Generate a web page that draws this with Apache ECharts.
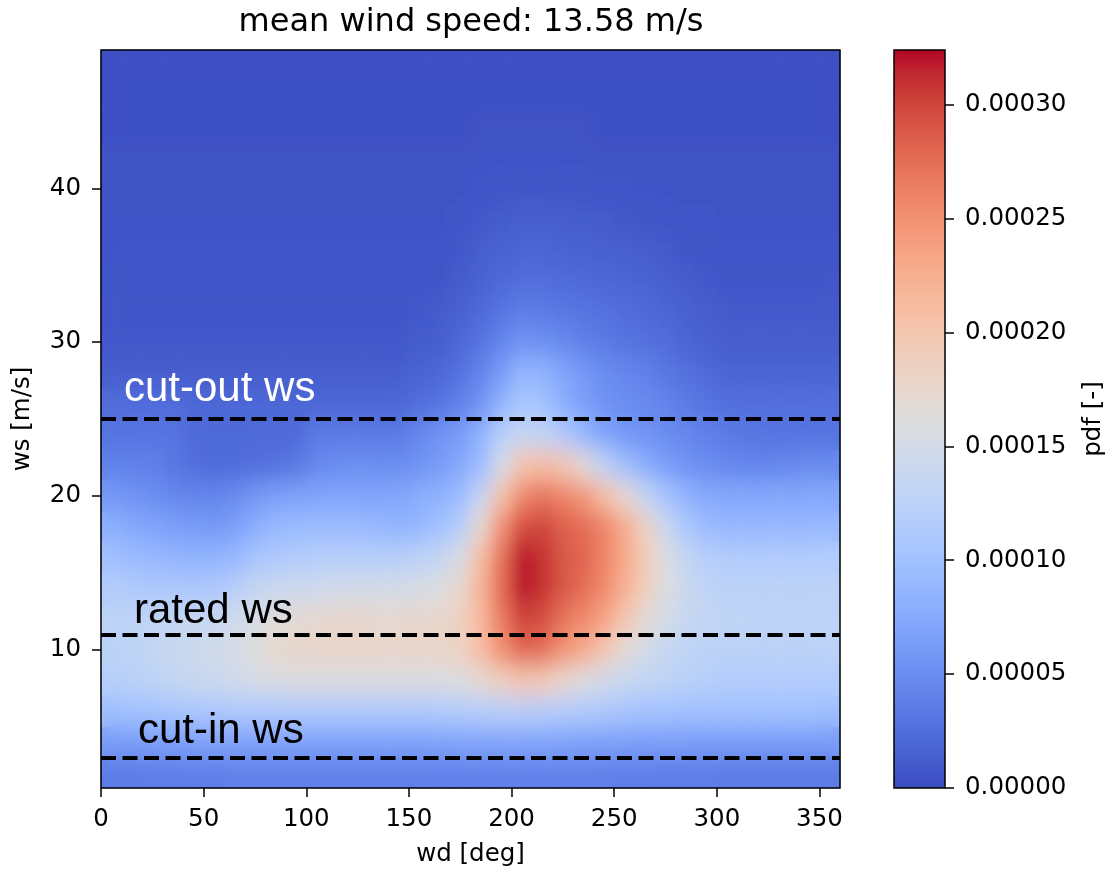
<!DOCTYPE html>
<html><head><meta charset="utf-8">
<script src="https://cdn.jsdelivr.net/npm/echarts@6/dist/echarts.min.js"></script>
<style>html,body{margin:0;padding:0;background:#fff}#c{width:1114px;height:874px;position:relative}</style>
</head><body>
<svg width="0" height="0" style="position:absolute">
  <filter id="smooth" x="-5%" y="-5%" width="110%" height="110%">
    <feGaussianBlur stdDeviation="8 12"/>
  </filter>
</svg>
<div id="c"></div>
<script>
// wind direction bin centres [deg] (10 deg bins) and wind speed bin centres [m/s] (2 m/s bins)
const wdCats = [5,15,25,35,45,55,65,75,85,95,105,115,125,135,145,155,165,175,185,195,205,215,225,235,245,255,265,275,285,295,305,315,325,335,345,355];
const wsCats = [2,4,6,8,10,12,14,16,18,20,22,24,26,28,30,32,34,36,38,40,42,44,46,48];

// pdf values in units of 1e-5 [-], one array per wind speed bin, wd 5..355
const pdf_ws02 = [3.6,3.6,3.7,3.7,3.8,3.8, 3.9,3.9,3.9,3.9,3.9,3.9, 3.9,3.9,3.9,3.9,4.0,4.0, 4.0,4.0,4.0,4.0,4.0,3.9, 3.9,3.8,3.8,3.7,3.7,3.7, 3.6,3.6,3.6,3.6,3.6,3.6];
const pdf_ws04 = [6.3,6.3,6.4,6.5,6.6,6.7, 6.8,6.8,6.8,6.8,6.8,6.8, 6.8,6.8,6.8,6.8,6.9,7.0, 7.0,7.0,7.0,7.0,6.9,6.8, 6.7,6.6,6.5,6.4,6.4,6.3, 6.3,6.3,6.3,6.3,6.3,6.3];
const pdf_ws06 = [9.8,10.0,10.2,10.5,10.8,11.0, 11.2,11.2,11.2,11.2,11.2,11.2, 11.2,11.2,11.2,11.2,11.3,11.5, 11.8,12.0,12.0,11.8,11.5,11.3, 11.0,10.6,10.3,10.2,10.0,10.0, 10.0,10.0,10.0,10.0,10.0,9.8];
const pdf_ws08 = [12.0,12.3,12.8,13.3,13.8,14.0, 14.6,15.2,15.6,15.8,15.8,15.8, 15.8,15.8,15.8,15.8,15.8,16.2, 17.2,18.8,20.0,19.5,17.8,16.0, 14.8,13.8,13.2,12.8,12.3,12.0, 11.5,11.5,11.5,11.5,11.5,11.5];
const pdf_ws10 = [12.5,12.8,13.3,13.8,14.2,14.5, 15.3,16.3,17.3,17.7,17.8,17.8, 17.8,17.8,17.8,17.8,17.8,18.3, 21.0,25.0,28.0,27.5,25.0,23.0, 20.0,17.0,15.0,13.7,13.0,12.6, 12.5,12.5,12.5,12.5,12.5,12.5];
const pdf_ws12 = [12.8,12.8,13.0,13.3,13.5,13.8, 14.5,15.5,16.5,17.0,17.3,17.5, 17.5,17.3,17.3,17.5,17.8,18.5, 21.5,26.5,30.0,29.5,27.0,25.5, 23.5,20.0,17.0,15.0,13.8,13.2, 13.0,13.0,12.8,12.8,12.8,12.8];
const pdf_ws14 = [11.5,11.3,11.0,11.0,11.0,11.0, 12.0,13.3,14.0,14.3,14.5,14.8, 15.0,15.0,15.0,15.5,16.0,17.5, 22.0,27.5,32.0,31.0,29.0,27.5, 25.5,22.5,19.0,16.0,14.0,13.0, 12.5,12.5,12.5,12.5,12.5,12.5];
const pdf_ws16 = [10.0,9.5,9.0,8.7,8.5,8.5, 9.0,10.5,11.2,11.5,11.8,12.0, 12.0,12.0,12.0,12.5,13.5,15.5, 21.0,27.0,32.0,31.0,29.0,28.0, 26.0,23.0,19.5,16.0,13.5,12.0, 11.5,11.5,11.5,11.5,11.5,11.5];
const pdf_ws18 = [8.0,7.5,7.0,6.5,6.2,6.0, 6.5,8.0,9.0,9.3,9.5,9.5, 9.3,9.0,8.5,9.0,10.0,12.0, 17.5,25.0,29.5,30.0,28.5,27.5, 26.0,23.0,18.5,14.0,11.0,9.5, 9.0,9.0,9.0,9.0,9.0,9.0];
const pdf_ws20 = [6.0,5.5,5.0,4.5,4.3,4.3, 4.8,5.8,6.5,6.8,7.0,7.0, 7.0,7.0,7.2,7.8,8.3,9.5, 13.5,20.5,25.5,27.0,26.0,24.5, 21.0,17.5,13.5,10.5,8.5,7.5, 7.3,7.3,7.3,7.3,7.3,7.3];
const pdf_ws22 = [4.0,4.0,4.0,3.3,2.6,2.3, 2.3,2.5,2.8,3.3,4.5,5.0, 5.2,5.0,5.0,5.5,6.2,7.5, 9.5,15.0,20.0,21.0,20.0,17.0, 13.0,10.0,8.0,6.5,5.5,5.0, 4.5,4.3,4.3,4.5,4.8,4.8];
const pdf_ws24 = [3.0,3.0,3.0,3.0,2.2,2.2, 2.2,2.2,2.2,2.2,3.5,3.5, 3.5,3.5,3.5,4.5,5.5,6.3, 8.5,12.0,13.5,13.0,11.5,9.0, 7.0,6.0,5.5,5.0,4.5,4.0, 3.5,3.2,3.0,3.0,3.0,3.0];
const pdf_ws26 = [2.4,2.4,2.4,2.4,2.0,2.0, 2.0,2.0,2.0,2.0,2.0,2.0, 2.0,2.0,2.0,2.5,3.0,4.0, 5.5,8.5,10.8,10.2,8.0,6.6, 5.5,5.0,4.8,4.2,3.5,3.0, 2.6,2.6,2.6,2.6,2.6,2.6];
const pdf_ws28 = [1.2,1.2,1.2,1.2,1.2,1.2, 1.2,1.2,1.2,1.2,1.2,1.2, 1.2,1.2,1.4,1.7,2.1,2.8, 4.2,6.3,8.8,8.5,7.2,6.0, 5.0,4.5,4.0,3.3,2.7,2.2, 1.8,1.8,1.8,1.8,1.8,1.8];
const pdf_ws30 = [0.9,0.9,0.9,0.9,0.9,0.9, 0.9,0.9,0.9,0.9,0.9,0.9, 0.9,0.9,0.9,1.1,1.4,2.0, 3.0,4.3,5.5,5.2,4.6,4.0, 3.5,3.0,2.7,2.4,1.9,1.5, 1.2,1.2,1.2,1.2,1.2,1.2];
const pdf_ws32 = [0.8,0.8,0.8,0.8,0.8,0.8, 0.8,0.8,0.8,0.8,0.8,0.8, 0.8,0.8,0.8,0.9,1.1,1.5, 2.2,3.0,3.7,3.6,3.3,3.0, 2.7,2.4,2.2,1.9,1.5,1.2, 1.0,1.0,1.0,1.0,1.0,1.0];
const pdf_ws34 = [0.7,0.7,0.7,0.7,0.7,0.7, 0.7,0.7,0.7,0.7,0.7,0.7, 0.7,0.7,0.7,0.7,0.7,1.1, 1.6,2.1,2.5,2.5,2.3,2.2, 2.0,1.8,1.7,1.4,1.1,0.9, 0.8,0.8,0.8,0.8,0.8,0.8];
const pdf_ws36 = [0.6,0.6,0.6,0.6,0.6,0.6, 0.6,0.6,0.6,0.6,0.6,0.6, 0.6,0.6,0.6,0.6,0.6,0.9, 1.3,1.6,1.8,1.8,1.7,1.6, 1.5,1.3,1.2,1.0,0.8,0.7, 0.6,0.6,0.6,0.6,0.6,0.6];
const pdf_ws38 = [0.5,0.5,0.5,0.5,0.5,0.5, 0.5,0.5,0.5,0.5,0.5,0.5, 0.5,0.5,0.5,0.5,0.5,0.7, 0.9,1.1,1.3,1.3,1.2,1.1, 1.0,0.9,0.8,0.7,0.6,0.6, 0.5,0.5,0.5,0.5,0.5,0.5];
const pdf_ws40 = [0.4,0.4,0.4,0.4,0.4,0.4, 0.4,0.4,0.4,0.4,0.4,0.4, 0.4,0.4,0.4,0.4,0.4,0.5, 0.6,0.7,0.8,0.8,0.7,0.7, 0.6,0.6,0.5,0.5,0.4,0.4, 0.4,0.4,0.4,0.4,0.4,0.4];
const pdf_ws42 = [0.4,0.4,0.4,0.4,0.4,0.4, 0.4,0.4,0.4,0.4,0.4,0.4, 0.4,0.4,0.4,0.4,0.4,0.4, 0.5,0.5,0.5,0.5,0.5,0.5, 0.4,0.4,0.4,0.4,0.4,0.4, 0.4,0.4,0.4,0.4,0.4,0.4];
const pdf_ws44 = [0.3,0.3,0.3,0.3,0.3,0.3, 0.3,0.3,0.3,0.3,0.3,0.3, 0.3,0.3,0.3,0.3,0.3,0.3, 0.4,0.4,0.4,0.4,0.4,0.4, 0.3,0.3,0.3,0.3,0.3,0.3, 0.3,0.3,0.3,0.3,0.3,0.3];
const pdf_ws46 = [0.3,0.3,0.3,0.3,0.3,0.3, 0.3,0.3,0.3,0.3,0.3,0.3, 0.3,0.3,0.3,0.3,0.3,0.3, 0.3,0.3,0.3,0.3,0.3,0.3, 0.3,0.3,0.3,0.3,0.3,0.3, 0.3,0.3,0.3,0.3,0.3,0.3];
const pdf_ws48 = [0.3,0.3,0.3,0.3,0.3,0.3, 0.3,0.3,0.3,0.3,0.3,0.3, 0.3,0.3,0.3,0.3,0.3,0.3, 0.3,0.3,0.3,0.3,0.3,0.3, 0.3,0.3,0.3,0.3,0.3,0.3, 0.3,0.3,0.3,0.3,0.3,0.3];
const pdfRows = [pdf_ws02,pdf_ws04,pdf_ws06,pdf_ws08,pdf_ws10,pdf_ws12,pdf_ws14,pdf_ws16,pdf_ws18,pdf_ws20,pdf_ws22,pdf_ws24,
                 pdf_ws26,pdf_ws28,pdf_ws30,pdf_ws32,pdf_ws34,pdf_ws36,pdf_ws38,pdf_ws40,pdf_ws42,pdf_ws44,pdf_ws46,pdf_ws48];

const pdfMax = 32.4;                         // top of colour bar (units of 1e-5)
const wdTicks = [0,50,100,150,200,250,300,350];
const wsTicks = [10,20,30,40];
const cbTicks = [0,5,10,15,20,25,30];        // units of 1e-5
const lineWs = [25, 11, 3];
const lineLabels = ['cut-out ws', 'rated ws', 'cut-in ws'];
const titleText = 'mean wind speed: 13.58 m/s';

const coolwarm = ['#3b4cc0','#445acc','#4d68d7','#5775e1','#6282ea','#6c8ef1','#779af7','#82a5fb','#8db0fe','#98b9ff','#a3c2ff','#aec9fd','#b8d0f9','#c2d5f4','#ccd9ee','#d5dbe6','#dddddd','#e5d8d1','#ecd3c5','#f1ccb8','#f5c4ac','#f7bb9f','#f7b193','#f7a686','#f49a7b','#f18d6f','#ec7f63','#e57058','#de604d','#d55042','#cb3e38','#c0282f','#b40426'];

const heatData = [];
pdfRows.forEach((row, j) => row.forEach((v, i) => heatData.push([i, j, v])));

const FONT = 'DejaVu Sans';
const TOP = 2;   // zlevel of axes, text and lines (above the heat map layers)
const chart = echarts.init(document.getElementById('c'), null, {renderer: 'canvas'});
chart.setOption({
  animation: false,
  backgroundColor: '#ffffff',
  title: {text: titleText, left: 466, top: 2, textAlign: 'center', zlevel: TOP,
    textStyle: {fontFamily: FONT, fontSize: 32, fontWeight: 'normal', color: '#000'}},
  grid: [
    {left: 101, top: 50, width: 739, height: 738, show: true, borderColor: '#000', borderWidth: 1.5,
     backgroundColor: 'transparent', z: 10, zlevel: TOP, outerBoundsMode: 'none'},
    {left: 894, top: 50, width: 51, height: 738, show: true, borderColor: '#000', borderWidth: 1.5,
     backgroundColor: 'transparent', z: 10, zlevel: TOP, outerBoundsMode: 'none'}
  ],
  xAxis: [
    {type: 'category', gridIndex: 0, data: wdCats, show: false},
    {type: 'value', gridIndex: 0, min: 0, max: 360, position: 'bottom', z: 10, zlevel: TOP,
     axisLine: {show: false, onZero: false}, splitLine: {show: false},
     axisTick: {show: true, length: 9, customValues: wdTicks, lineStyle: {color: '#000', width: 1.5}},
     axisLabel: {customValues: wdTicks, fontFamily: FONT, fontSize: 24.5, color: '#000', margin: 19},
     name: 'wd [deg]', nameLocation: 'middle', nameGap: 54,
     nameTextStyle: {fontFamily: FONT, fontSize: 24.5, color: '#000'}},
    {type: 'value', gridIndex: 1, min: 0, max: 1, show: false}
  ],
  yAxis: [
    {type: 'category', gridIndex: 0, data: wsCats, show: false},
    {type: 'value', gridIndex: 0, min: 1, max: 49, position: 'left', z: 10, zlevel: TOP,
     axisLine: {show: false, onZero: false}, splitLine: {show: false},
     axisTick: {show: true, length: 9, customValues: wsTicks, lineStyle: {color: '#000', width: 1.5}},
     axisLabel: {customValues: wsTicks, fontFamily: FONT, fontSize: 24.5, color: '#000', margin: 20},
     name: 'ws [m/s]', nameLocation: 'middle', nameGap: 66, nameRotate: 90,
     nameTextStyle: {fontFamily: FONT, fontSize: 24.5, color: '#000'}},
    {type: 'value', gridIndex: 1, min: 0, max: pdfMax, position: 'right', z: 10, zlevel: TOP,
     axisLine: {show: false, onZero: false}, splitLine: {show: false},
     axisTick: {show: true, length: 9, customValues: cbTicks, lineStyle: {color: '#000', width: 1.5}},
     axisLabel: {customValues: cbTicks, formatter: v => (v * 1e-5).toFixed(5),
       fontFamily: FONT, fontSize: 24.5, color: '#000', margin: 20},
     name: 'pdf [-]', nameLocation: 'middle', nameGap: 136, nameRotate: 90,
     nameTextStyle: {fontFamily: FONT, fontSize: 24.5, color: '#000'}}
  ],
  visualMap: {
    type: 'continuous', min: 0, max: pdfMax, seriesIndex: [0, 1], calculable: false, hoverLink: false,
    orient: 'vertical', left: 894, top: 50, itemWidth: 51, itemHeight: 738, padding: 0, zlevel: TOP,
    inRange: {color: coolwarm}
  },
  series: [
    // crisp base copy of the heat map (visible only at the plot edges)
    {type: 'heatmap', xAxisIndex: 0, yAxisIndex: 0, data: heatData, silent: true, zlevel: 0,
     emphasis: {disabled: true}, progressive: 0},
    // same heat map on its own canvas layer, smoothed like matplotlib's interpolated image
    {type: 'heatmap', xAxisIndex: 0, yAxisIndex: 0, data: heatData, silent: true, zlevel: 1,
     emphasis: {disabled: true}, progressive: 0},
    {type: 'line', xAxisIndex: 1, yAxisIndex: 1, data: [], silent: true, z: 6, zlevel: TOP,
     markLine: {
       silent: true, symbol: ['none', 'none'], animation: false, zlevel: TOP, z: 6,
       lineStyle: {color: '#000', type: [15, 6.5], width: 4},
       label: {show: true, position: 'insideStartTop', fontFamily: 'Liberation Sans', fontSize: 42},
       data: [
         {yAxis: lineWs[0], label: {formatter: lineLabels[0], color: '#fff', distance: [23, 9]}},
         {yAxis: lineWs[1], label: {formatter: lineLabels[1], color: '#000', distance: [33, 2]}},
         {yAxis: lineWs[2], label: {formatter: lineLabels[2], color: '#000', distance: [37, 5]}}
       ]
     }}
  ]
});

// smooth the heat-map layer and clip it to the plot area
const layer = chart.getZr().painter.getLayer(1);
if (layer && layer.dom) {
  layer.dom.style.filter = 'url(#smooth)';
  layer.dom.style.clipPath = 'inset(50px 274px 86px 101px)';
}
</script>
</body></html>
